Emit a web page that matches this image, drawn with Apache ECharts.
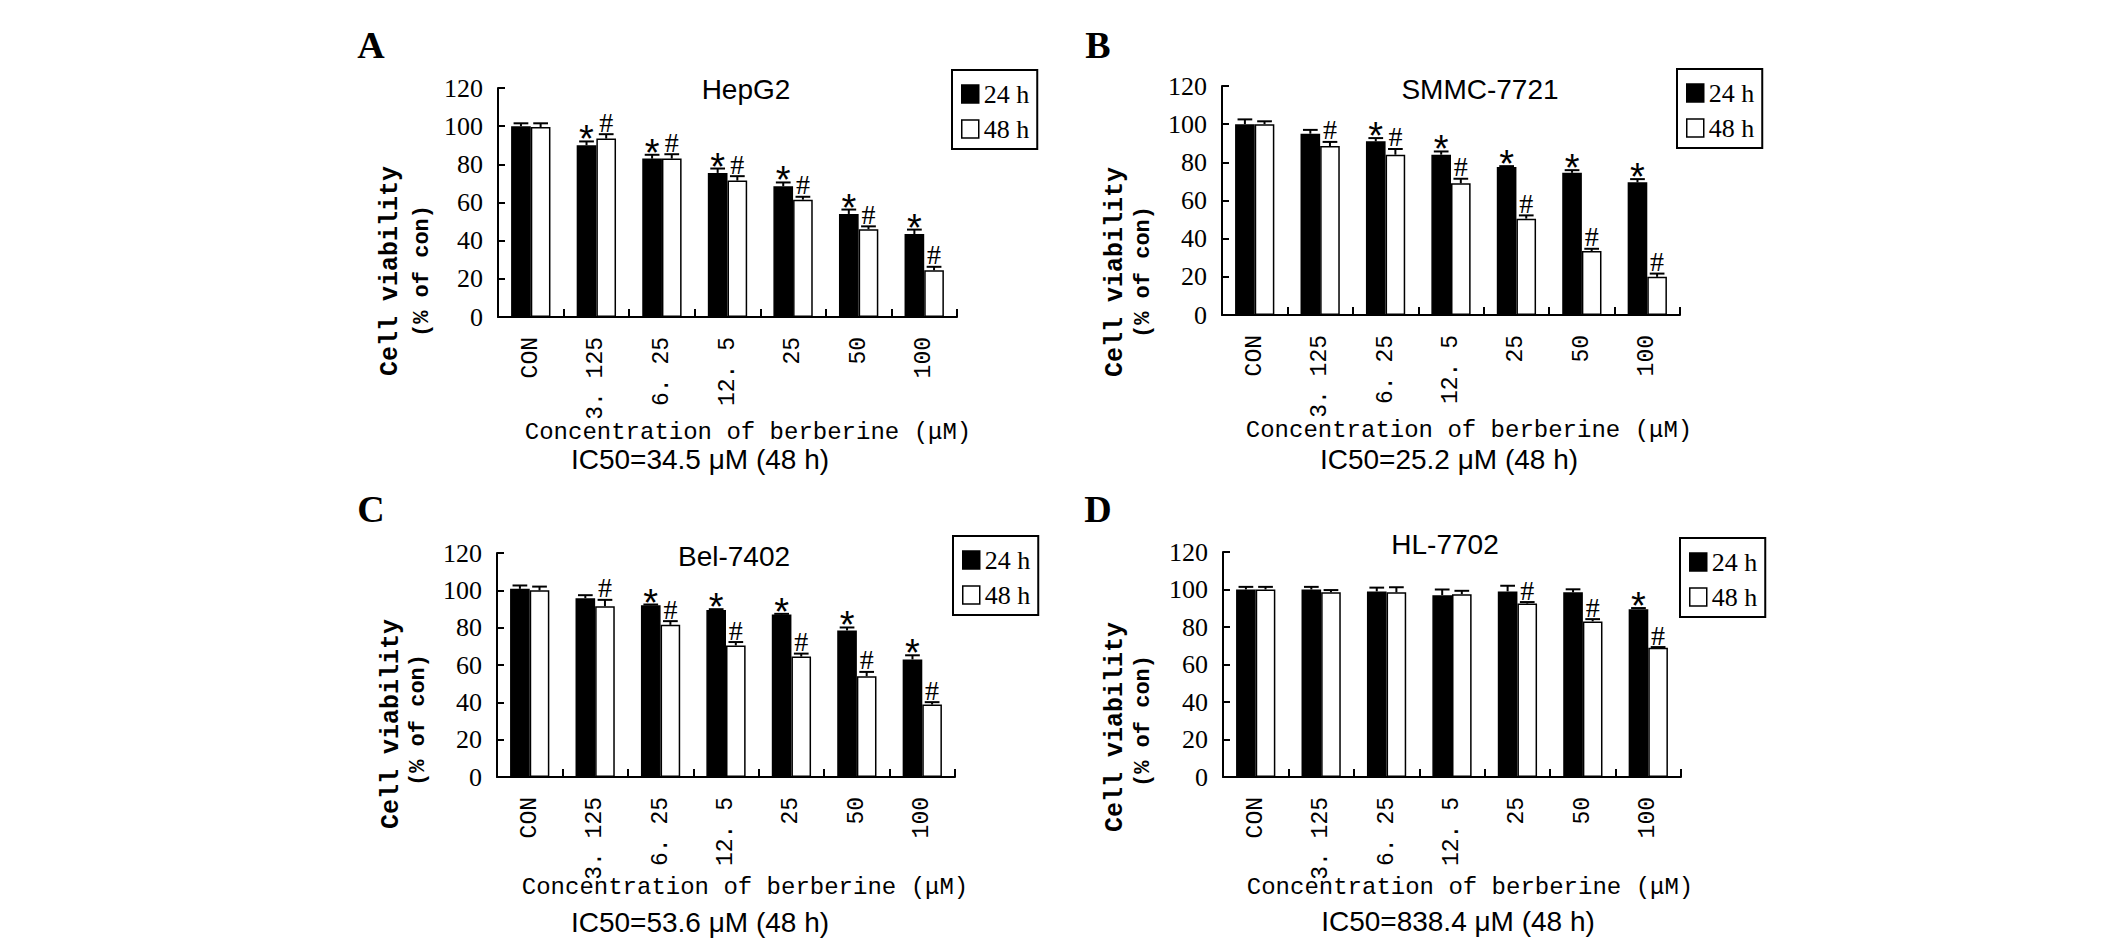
<!DOCTYPE html>
<html><head><meta charset="utf-8">
<script src="https://cdn.jsdelivr.net/npm/echarts@6/dist/echarts.min.js"></script>
<style>html,body{margin:0;padding:0;background:#fff}#c{width:2126px;height:944px}</style>
</head><body><div id="c"></div>
<script>
// ---------- data ----------
const categories = ['CON', '3. 125', '6. 25', '12. 5', '25', '50', '100'];
const seriesNames = ['24 h', '48 h'];
const panelLetters = ['A', 'B', 'C', 'D'];
const cellLines = ['HepG2', 'SMMC-7721', 'Bel-7402', 'HL-7702'];
const ic50Texts = ['IC50=34.5 μM (48 h)', 'IC50=25.2 μM (48 h)', 'IC50=53.6 μM (48 h)', 'IC50=838.4 μM (48 h)'];
const xAxisTitle = 'Concentration of berberine (μM)';
const yAxisTitle1 = 'Cell viability';
const yAxisTitle2 = '(% of con)';

const hepg2_24h = [100, 90, 83, 75.5, 68.5, 54, 43.5];
const hepg2_24h_err = [1.5, 2, 2, 2.3, 2, 2.3, 2.3];
const hepg2_48h = [99.5, 93.5, 83, 71.5, 61.5, 46, 24.5];
const hepg2_48h_err = [2, 2.3, 2.3, 2.3, 1.5, 1.5, 1.8];
const hepg2_24h_marks = ['', '*', '*', '*', '*', '*', '*'];
const hepg2_48h_marks = ['', '#', '#', '#', '#', '#', '#'];

const smmc_24h = [100, 95, 91, 84, 77.5, 74.5, 69.5];
const smmc_24h_err = [2.5, 2, 1.7, 1.7, 0.5, 1.4, 1.7];
const smmc_48h = [100, 88.5, 84, 69, 50.5, 33.5, 20];
const smmc_48h_err = [1.5, 2.2, 3, 2.4, 1.7, 1.2, 1.7];
const smmc_24h_marks = ['', '', '*', '*', '*', '*', '*'];
const smmc_48h_marks = ['', '#', '#', '#', '#', '#', '#'];

const bel_24h = [100.8, 95.8, 92, 89.5, 87, 78.5, 63];
const bel_24h_err = [1.8, 1.6, 0.4, 0.4, 0.4, 1.6, 2.2];
const bel_48h = [100, 91.5, 81.5, 70.5, 64.5, 54, 38.8];
const bel_48h_err = [2, 3.4, 2, 1.8, 1.6, 2.3, 1.3];
const bel_24h_marks = ['', '', '*', '*', '*', '*', '*'];
const bel_48h_marks = ['', '#', '#', '#', '#', '#', '#'];

const hl_24h = [100, 100, 99, 97, 99, 98.5, 89.5];
const hl_24h_err = [1.4, 1.4, 2, 3, 3, 1.6, 0.6];
const hl_48h = [100, 98.5, 98.5, 97.5, 92.5, 83, 69];
const hl_48h_err = [1.4, 1.2, 2.7, 1.8, 0.8, 1.2, 0.3];
const hl_24h_marks = ['', '', '', '', '', '', '*'];
const hl_48h_marks = ['', '', '', '', '#', '#', '#'];

const yMin = 0, yMax = 120, yInterval = 20;

// ---------- layout / style ----------
const panelData = [
  [hepg2_24h, hepg2_24h_err, hepg2_24h_marks, hepg2_48h, hepg2_48h_err, hepg2_48h_marks],
  [smmc_24h, smmc_24h_err, smmc_24h_marks, smmc_48h, smmc_48h_err, smmc_48h_marks],
  [bel_24h, bel_24h_err, bel_24h_marks, bel_48h, bel_48h_err, bel_48h_marks],
  [hl_24h, hl_24h_err, hl_24h_marks, hl_48h, hl_48h_err, hl_48h_marks]
];
const layout = [
  { grid: [498, 88, 459, 229], legend: [952, 70], letter: [371, 45], title: [746, 89], xname: [748, 432], ic50: [700, 459], y1: [390, 271], y2: [422, 271] },
  { grid: [1222, 86, 458, 229], legend: [1677, 69], letter: [1098, 45], title: [1480, 89], xname: [1469, 430], ic50: [1449, 459], y1: [1115, 272], y2: [1143, 272] },
  { grid: [497, 553, 458, 224], legend: [953, 536], letter: [371, 509], title: [734, 556], xname: [745, 887], ic50: [700, 922], y1: [391, 724], y2: [418, 720] },
  { grid: [1223, 552, 458, 225], legend: [1680, 538], letter: [1098, 509], title: [1445, 544], xname: [1470, 887], ic50: [1458, 921], y1: [1115, 727], y2: [1143, 721] }
];

const SERIF = '"Liberation Serif", "Times New Roman", serif';
const MONO = '"Liberation Mono", "Courier New", monospace';
const SANS = '"Liberation Sans", Arial, sans-serif';

const grids = [], xAxes = [], yAxes = [], series = [], legends = [], graphics = [];

function errSeries(gi, vals, errs, marks, side) {
  return {
    type: 'custom', xAxisIndex: gi, yAxisIndex: gi, z: 5, silent: true,
    data: vals.map((v, i) => [i, v, errs[i]]),
    renderItem(params, api) {
      const i = api.value(0), v = api.value(1), e = api.value(2);
      const band = api.size([1, 0])[0];
      const bw = band * 0.3;
      const c0 = api.coord([i, v]);
      const c1 = api.coord([i, v + e]);
      const x = c0[0] + side * bw / 2;
      const cap = bw * 0.75;
      const children = [
        { type: 'line', shape: { x1: x, y1: c0[1], x2: x, y2: c1[1] }, style: { stroke: '#000', lineWidth: 2 } },
        { type: 'line', shape: { x1: x - cap / 2, y1: c1[1], x2: x + cap / 2, y2: c1[1] }, style: { stroke: '#000', lineWidth: 2 } }
      ];
      const m = marks[params.dataIndex];
      if (m === '*') {
        children.push({ type: 'text', style: { text: m, x: x, y: c1[1] - 2, align: 'center', verticalAlign: 'middle', font: '38px ' + SANS, fill: '#000' } });
      } else if (m) {
        children.push({ type: 'text', style: { text: m, x: x, y: c1[1] - 12, align: 'center', verticalAlign: 'middle', font: '28px ' + SERIF, fill: '#000' } });
      }
      return { type: 'group', children };
    }
  };
}

function txt(x, y, text, font, rot) {
  const el = { type: 'text', x: x, y: y, style: { text: text, font: font, fill: '#000', align: 'center', verticalAlign: 'middle' } };
  if (rot) el.rotation = rot;
  return el;
}

layout.forEach((L, gi) => {
  const [v24, e24, m24, v48, e48, m48] = panelData[gi];
  grids.push({ left: L.grid[0], top: L.grid[1], width: L.grid[2], height: L.grid[3], containLabel: false });
  xAxes.push({
    type: 'category', gridIndex: gi, data: categories, boundaryGap: true,
    axisLine: { lineStyle: { color: '#000', width: 2 } },
    axisTick: { show: true, inside: true, length: 8, alignWithLabel: false, lineStyle: { color: '#000', width: 2 } },
    axisLabel: { interval: 0, rotate: 90, margin: 20, color: '#000', fontFamily: MONO, fontSize: 23 },
    splitLine: { show: false }
  });
  yAxes.push({
    type: 'value', gridIndex: gi, min: yMin, max: yMax, interval: yInterval,
    axisLine: { show: true, lineStyle: { color: '#000', width: 2 } },
    axisTick: { show: true, inside: true, length: 7, lineStyle: { color: '#000', width: 2 } },
    axisLabel: { color: '#000', fontFamily: SERIF, fontSize: 26, margin: 15 },
    splitLine: { show: false }
  });
  series.push({
    type: 'bar', name: seriesNames[0], xAxisIndex: gi, yAxisIndex: gi, data: v24,
    barGap: '0%', barCategoryGap: '40%',
    itemStyle: { color: '#000', borderColor: '#000', borderWidth: 1.5 }
  });
  series.push({
    type: 'bar', name: seriesNames[1], xAxisIndex: gi, yAxisIndex: gi, data: v48,
    barGap: '0%', barCategoryGap: '40%',
    itemStyle: { color: '#fff', borderColor: '#000', borderWidth: 1.5 }
  });
  series.push(errSeries(gi, v24, e24, m24, -1));
  series.push(errSeries(gi, v48, e48, m48, 1));
  legends.push({
    left: L.legend[0], top: L.legend[1], orient: 'vertical',
    data: seriesNames, icon: 'rect', itemWidth: 17, itemHeight: 18, itemGap: 9, itemTextGap: 9,
    padding: [11, 8, 7, 9], borderColor: '#000', borderWidth: 2, selectedMode: false,
    textStyle: { color: '#000', fontFamily: SERIF, fontSize: 26, lineHeight: 26 },
    itemStyle: { borderColor: '#000', borderWidth: 1.5 }
  });
  graphics.push(txt(L.letter[0], L.letter[1], panelLetters[gi], 'bold 38px ' + SERIF));
  graphics.push(txt(L.title[0], L.title[1], cellLines[gi], '28px ' + SANS));
  graphics.push(txt(L.xname[0], L.xname[1], xAxisTitle, '24px ' + MONO));
  graphics.push(txt(L.ic50[0], L.ic50[1], ic50Texts[gi], '28px ' + SANS));
  graphics.push(txt(L.y1[0], L.y1[1], yAxisTitle1, 'bold 25px ' + MONO, Math.PI / 2));
  graphics.push(txt(L.y2[0], L.y2[1], yAxisTitle2, 'bold 22px ' + MONO, Math.PI / 2));
});

const chart = echarts.init(document.getElementById('c'), null, { renderer: 'svg', width: 2126, height: 944 });
chart.setOption({
  backgroundColor: '#fff',
  animation: false,
  grid: grids, xAxis: xAxes, yAxis: yAxes, legend: legends, series: series,
  graphic: graphics
});
</script>
</body></html>
